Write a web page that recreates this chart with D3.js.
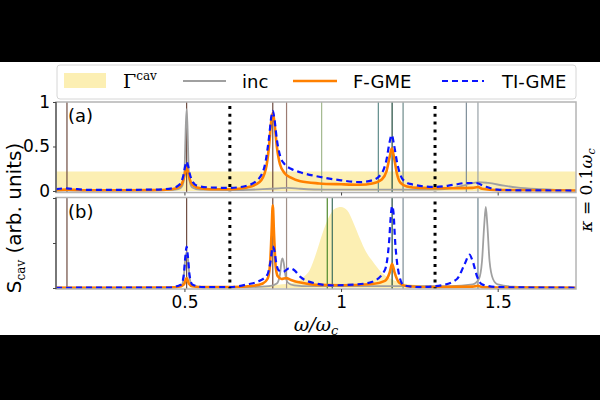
<!DOCTYPE html>
<html>
<head>
<meta charset="utf-8">
<script src="https://cdn.jsdelivr.net/npm/d3@7"></script>
<style>
  body { margin: 0; background: #fff; }
  svg { display: block; }
</style>
</head>
<body>
<script>
// ---- data: [omega/omega_c, S_cav] ----
const xTicks = [0.5, 1, 1.5];
const yTicks = [0, 0.5, 1];

const cavA = [[0.09, 0.22], [0.5, 0.22], [1.0, 0.22], [1.75, 0.22]];
const incA = [[0.09, 0.005], [0.3, 0.005], [0.45, 0.01], [0.48, 0.02], [0.49, 0.04], [0.497, 0.1], [0.501, 0.3], [0.504, 0.7], [0.507, 0.92], [0.51, 0.7], [0.513, 0.3], [0.517, 0.1], [0.525, 0.04], [0.55, 0.015], [0.65, 0.01], [0.75, 0.02], [0.8, 0.03], [0.83, 0.035], [0.87, 0.025], [0.95, 0.015], [1.1, 0.015], [1.2, 0.015], [1.3, 0.015], [1.36, 0.035], [1.4, 0.07], [1.44, 0.1], [1.47, 0.09], [1.52, 0.06], [1.56, 0.04], [1.64, 0.02], [1.75, 0.005]];
const fgmeA = [[0.09, 0.01], [0.12, 0.015], [0.13, 0.015], [0.2, 0.008], [0.4, 0.01], [0.46, 0.02], [0.48, 0.04], [0.49, 0.07], [0.497, 0.13], [0.503, 0.22], [0.507, 0.26], [0.511, 0.22], [0.517, 0.13], [0.525, 0.07], [0.54, 0.04], [0.58, 0.02], [0.65, 0.02], [0.7, 0.04], [0.74, 0.1], [0.76, 0.25], [0.77, 0.5], [0.777, 0.78], [0.782, 0.88], [0.787, 0.78], [0.795, 0.5], [0.805, 0.3], [0.82, 0.2], [0.84, 0.15], [0.87, 0.11], [0.93, 0.085], [1.0, 0.075], [1.06, 0.07], [1.1, 0.085], [1.13, 0.13], [1.145, 0.22], [1.155, 0.38], [1.162, 0.48], [1.169, 0.38], [1.178, 0.2], [1.19, 0.09], [1.21, 0.05], [1.25, 0.035], [1.35, 0.03], [1.42, 0.035], [1.437, 0.045], [1.45, 0.025], [1.5, 0.01], [1.75, 0.005]];
const tigmeA = [[0.09, 0.02], [0.12, 0.03], [0.14, 0.025], [0.2, 0.012], [0.4, 0.015], [0.46, 0.03], [0.48, 0.06], [0.49, 0.1], [0.497, 0.18], [0.503, 0.29], [0.507, 0.33], [0.511, 0.29], [0.518, 0.18], [0.527, 0.1], [0.54, 0.06], [0.58, 0.04], [0.645, 0.035], [0.7, 0.06], [0.74, 0.15], [0.76, 0.35], [0.77, 0.6], [0.778, 0.85], [0.782, 0.9], [0.787, 0.82], [0.795, 0.58], [0.805, 0.4], [0.82, 0.3], [0.84, 0.25], [0.87, 0.21], [0.93, 0.16], [1.0, 0.12], [1.06, 0.1], [1.1, 0.12], [1.13, 0.2], [1.145, 0.35], [1.155, 0.55], [1.162, 0.63], [1.169, 0.52], [1.18, 0.3], [1.195, 0.14], [1.22, 0.08], [1.3, 0.045], [1.36, 0.07], [1.4, 0.09], [1.43, 0.09], [1.46, 0.05], [1.5, 0.015], [1.55, 0.008], [1.75, 0.005]];

const cavB = [[0.09, 0.0], [0.6, 0.005], [0.7, 0.015], [0.8, 0.035], [0.85, 0.06], [0.88, 0.12], [0.9, 0.2], [0.92, 0.38], [0.94, 0.6], [0.96, 0.78], [0.98, 0.88], [1.0, 0.9], [1.02, 0.86], [1.04, 0.72], [1.06, 0.55], [1.08, 0.4], [1.1, 0.3], [1.13, 0.17], [1.16, 0.1], [1.2, 0.05], [1.3, 0.02], [1.4, 0.01], [1.75, 0.0]];
const incB = [[0.09, 0.003], [0.45, 0.005], [0.49, 0.03], [0.497, 0.1], [0.502, 0.3], [0.507, 0.4], [0.512, 0.3], [0.517, 0.1], [0.525, 0.03], [0.56, 0.01], [0.7, 0.01], [0.77, 0.02], [0.795, 0.05], [0.805, 0.15], [0.81, 0.3], [0.813, 0.33], [0.817, 0.28], [0.822, 0.15], [0.83, 0.06], [0.85, 0.03], [0.9, 0.02], [1.2, 0.02], [1.35, 0.02], [1.42, 0.04], [1.44, 0.1], [1.45, 0.3], [1.457, 0.7], [1.462, 0.9], [1.467, 0.7], [1.474, 0.3], [1.485, 0.1], [1.5, 0.04], [1.55, 0.015], [1.75, 0.005]];
const fgmeB = [[0.09, 0.003], [0.45, 0.005], [0.49, 0.02], [0.5, 0.05], [0.507, 0.11], [0.514, 0.05], [0.525, 0.02], [0.56, 0.01], [0.65, 0.01], [0.72, 0.025], [0.75, 0.05], [0.765, 0.1], [0.773, 0.25], [0.778, 0.6], [0.782, 0.92], [0.786, 0.6], [0.791, 0.25], [0.798, 0.13], [0.81, 0.1], [0.825, 0.11], [0.84, 0.09], [0.87, 0.06], [0.92, 0.035], [1.0, 0.03], [1.1, 0.045], [1.14, 0.08], [1.155, 0.17], [1.163, 0.27], [1.171, 0.17], [1.185, 0.06], [1.21, 0.02], [1.3, 0.01], [1.42, 0.015], [1.437, 0.025], [1.45, 0.01], [1.5, 0.005], [1.75, 0.003]];
const tigmeB = [[0.09, 0.003], [0.45, 0.005], [0.49, 0.04], [0.498, 0.15], [0.503, 0.35], [0.507, 0.46], [0.511, 0.35], [0.516, 0.15], [0.525, 0.04], [0.56, 0.01], [0.645, 0.01], [0.7, 0.04], [0.74, 0.08], [0.765, 0.15], [0.775, 0.3], [0.782, 0.46], [0.787, 0.42], [0.793, 0.28], [0.8, 0.2], [0.815, 0.18], [0.835, 0.22], [0.85, 0.2], [0.871, 0.12], [0.92, 0.05], [0.97, 0.03], [1.05, 0.04], [1.1, 0.07], [1.14, 0.2], [1.153, 0.5], [1.16, 0.85], [1.163, 0.91], [1.167, 0.85], [1.173, 0.5], [1.185, 0.15], [1.2, 0.03], [1.25, 0.01], [1.32, 0.03], [1.37, 0.1], [1.395, 0.27], [1.41, 0.37], [1.42, 0.3], [1.435, 0.12], [1.45, 0.04], [1.5, 0.01], [1.75, 0.003]];

// vertical marker lines: [omega, colour]
const vlinesA = [[0.125, "#6e4b40"], [0.507, "#6e4b40"], [0.782, "#6e4b40"], [0.826, "#9c7b72"], [0.938, "#a3b98f"], [1.119, "#5f8c8a"], [1.163, "#1f4a3c"], [1.198, "#6f8b8b"], [1.40, "#7e8e98"], [1.437, "#9aa2a8"]];
const vlinesB = [[0.125, "#6e4b40"], [0.507, "#6e4b40"], [0.782, "#6e4b40"], [0.826, "#a09088"], [0.956, "#4f8a2c"], [0.972, "#3c6e5e"], [1.163, "#1f4a3c"], [1.198, "#7e8e98"], [1.437, "#6f8590"]];
const dotted = [0.645, 1.30];

const legendItems = ["cav", "inc", "F-GME", "TI-GME"];

// ---- layout ----
let svgWidth = 600, svgHeight = 400;
let svg = d3.select("body").append("svg")
    .attr("width", svgWidth)
    .attr("height", svgHeight);

svg.append("rect").attr("width", svgWidth).attr("height", svgHeight).attr("fill", "#fff");
svg.append("rect").attr("x", 0).attr("y", 0).attr("width", svgWidth).attr("height", 62).attr("fill", "#000");
svg.append("rect").attr("x", 0).attr("y", 335).attr("width", svgWidth).attr("height", 65).attr("fill", "#000");

let left = 56, right = 576;
let x = d3.scaleLinear().domain([0.09, 1.75]).range([left, right]);

let panels = [
    { top: 102, bottom: 192.5, y: d3.scaleLinear().domain([-0.017, 1.0]).range([192.5, 102]),
      cav: cavA, inc: incA, fgme: fgmeA, tigme: tigmeA, vl: vlinesA, tag: "(a)", labels: true },
    { top: 197.5, bottom: 289, y: d3.scaleLinear().domain([-0.011, 1.0]).range([289, 198]),
      cav: cavB, inc: incB, fgme: fgmeB, tigme: tigmeB, vl: vlinesB, tag: "(b)", labels: false }
];

const sans = "DejaVu Sans, sans-serif";
const serif = "DejaVu Serif, serif";

panels.forEach(function (p, i) {
    let id = "clip" + i;
    svg.append("clipPath").attr("id", id)
        .append("rect").attr("x", left).attr("y", p.top).attr("width", right - left).attr("height", p.bottom - p.top);
    let g = svg.append("g").attr("clip-path", `url(#${id})`);

    let area = d3.area().x(d => x(d[0])).y0(p.y(0)).y1(d => p.y(d[1])).curve(d3.curveMonotoneX);
    g.append("path").datum(p.cav).attr("d", area).attr("fill", "#fcefb3");

    g.selectAll("line.vl").data(p.vl).enter().append("line")
        .attr("x1", d => x(d[0])).attr("x2", d => x(d[0]))
        .attr("y1", p.top).attr("y2", p.bottom)
        .attr("stroke", d => d[1]).attr("stroke-width", 1.2);

    let line = d3.line().x(d => x(d[0])).y(d => p.y(d[1])).curve(d3.curveMonotoneX);
    g.append("path").datum(p.inc).attr("d", line).attr("fill", "none")
        .attr("stroke", "#a0a0a0").attr("stroke-width", 1.8);
    g.append("path").datum(p.fgme).attr("d", line).attr("fill", "none")
        .attr("stroke", "#ff8000").attr("stroke-width", 2.6);
    g.append("path").datum(p.tigme).attr("d", line).attr("fill", "none")
        .attr("stroke", "#0a14ff").attr("stroke-width", 2.2).attr("stroke-dasharray", "6,4");

    g.selectAll("line.dot").data(dotted).enter().append("line")
        .attr("x1", d => x(d)).attr("x2", d => x(d))
        .attr("y1", p.top + 4).attr("y2", p.bottom)
        .attr("stroke", "#000").attr("stroke-width", 3).attr("stroke-dasharray", "3,4.8");

    // frame
    svg.append("rect").attr("x", left).attr("y", p.top).attr("width", right - left).attr("height", p.bottom - p.top)
        .attr("fill", "none").attr("stroke", "#b4b4b4").attr("stroke-width", 1.5);
    svg.append("line").attr("x1", left).attr("x2", left).attr("y1", p.top).attr("y2", p.bottom)
        .attr("stroke", "#444").attr("stroke-width", 1.2);

    // axes
    let yAxis = d3.axisLeft(p.y).tickValues(yTicks).tickSize(3).tickPadding(3)
        .tickFormat(d => p.labels ? String(d) : "");
    let ya = svg.append("g").attr("transform", `translate(${left},0)`).call(yAxis);
    ya.select(".domain").remove();
    ya.selectAll("text").attr("font-family", sans).attr("font-size", 17).attr("fill", "#000");
    ya.selectAll("line").attr("stroke", "#444");

    let xAxis = d3.axisBottom(x).tickValues(xTicks).tickSize(3).tickPadding(4)
        .tickFormat(d => p.labels ? "" : String(d));
    let xa = svg.append("g").attr("transform", `translate(0,${p.bottom})`).call(xAxis);
    xa.select(".domain").remove();
    xa.selectAll("text").attr("font-family", sans).attr("font-size", 17).attr("fill", "#000");
    xa.selectAll("line").attr("stroke", "#444");

    svg.append("text").attr("x", 68).attr("y", p.top + 20)
        .attr("font-family", sans).attr("font-size", 18).text(p.tag);
});

// ---- axis titles ----
let yl = svg.append("text")
    .attr("transform", "translate(21,218) rotate(-90)")
    .attr("text-anchor", "middle")
    .attr("font-family", sans).attr("font-size", 20);
yl.append("tspan").text("S");
yl.append("tspan").attr("font-family", serif).attr("font-size", 12).attr("dy", 4).text("cav");
yl.append("tspan").attr("dy", -4).text(" (arb. units)");

let xl = svg.append("text").attr("x", 316).attr("y", 331)
    .attr("text-anchor", "middle").attr("font-family", serif).attr("font-style", "italic").attr("font-size", 19);
xl.append("tspan").text("ω/ω");
xl.append("tspan").attr("font-size", 13).attr("dy", 4).text("c");

let kl = svg.append("text")
    .attr("transform", "translate(592,190) rotate(-90)")
    .attr("text-anchor", "middle").attr("font-family", serif).attr("font-size", 17);
kl.append("tspan").attr("font-style", "italic").text("κ");
kl.append("tspan").text(" = 0.1");
kl.append("tspan").attr("font-style", "italic").text("ω");
kl.append("tspan").attr("font-style", "italic").attr("font-size", 11).attr("dy", 3).text("c");

// ---- legend ----
let lg = svg.append("g");
lg.append("rect").attr("x", 57).attr("y", 65).attr("width", 519).attr("height", 34).attr("rx", 3)
    .attr("fill", "#fff").attr("stroke", "#d6d6d6").attr("stroke-width", 1);
let ly = 81;
lg.append("rect").attr("x", 64).attr("y", 73).attr("width", 42).attr("height", 15).attr("fill", "#fcefb3");
let gt = lg.append("text").attr("x", 123).attr("y", ly + 7).attr("font-family", serif).attr("font-size", 19);
gt.append("tspan").text("Γ");
gt.append("tspan").attr("font-size", 12).attr("dy", -8).text(legendItems[0]);

lg.append("line").attr("x1", 183).attr("x2", 226).attr("y1", ly).attr("y2", ly).attr("stroke", "#a0a0a0").attr("stroke-width", 1.8);
lg.append("text").attr("x", 242).attr("y", ly + 7).attr("font-family", sans).attr("font-size", 18).text(legendItems[1]);
lg.append("line").attr("x1", 293).attr("x2", 337).attr("y1", ly).attr("y2", ly).attr("stroke", "#ff8000").attr("stroke-width", 2.6);
lg.append("text").attr("x", 353).attr("y", ly + 7).attr("font-family", sans).attr("font-size", 18).text(legendItems[2]);
lg.append("line").attr("x1", 442).attr("x2", 484).attr("y1", ly).attr("y2", ly).attr("stroke", "#0a14ff").attr("stroke-width", 2.2).attr("stroke-dasharray", "6,4");
lg.append("text").attr("x", 502).attr("y", ly + 7).attr("font-family", sans).attr("font-size", 18).text(legendItems[3]);
</script>
</body>
</html>
